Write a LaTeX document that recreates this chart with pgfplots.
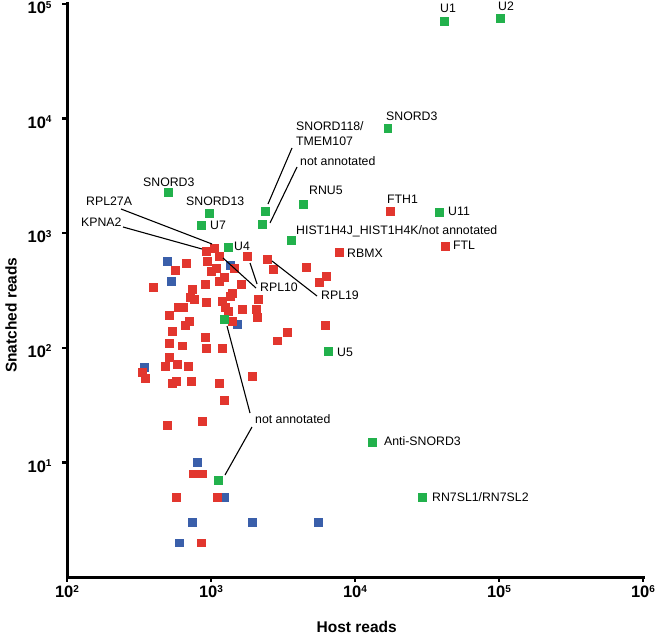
\documentclass[border=0pt]{standalone}
\usepackage{fontspec}
\setmainfont{Liberation Sans}
\usepackage{pgfplots}
\pgfplotsset{compat=1.18}
\definecolor{cred}{RGB}{226,54,46}
\definecolor{cgreen}{RGB}{34,177,76}
\definecolor{cblue}{RGB}{58,95,170}
\newcommand{\tl}[1]{\bfseries 10\raisebox{5.5pt}{\fontsize{10}{10}\selectfont\bfseries #1}}
\newcommand{\lab}{\fontsize{12.3}{14}\selectfont}
\begin{document}
\begin{tikzpicture}
\begin{axis}[
 scale only axis, width=576pt, height=573pt,
 xmode=log, ymode=log, xmin=100, xmax=1e6, ymin=1, ymax=1e5,
 axis lines=left, axis line style={-, line width=3pt, line cap=rect},
 xminorticks=false, yminorticks=false,
 xtick={100,1000,10000,100000,1000000},
 xticklabels={\tl{2},\tl{3},\tl{4},\tl{5},\tl{6}},
 ytick={10,100,1000,10000,100000},
 yticklabels={\tl{1},\tl{2},\tl{3},\tl{4},\tl{5}},
 tick align=outside, major tick length=5pt,
 tick style={black, line width=2.5pt},
 tick label style={font=\fontsize{16.5}{18}\selectfont},
 yticklabel style={xshift=-7pt, yshift=-3.5pt},
 xlabel={Host reads}, ylabel={Snatched reads},
 label style={font=\bfseries\fontsize{15.5}{18}\selectfont},
 xlabel style={at={(rel axis cs:0.503,-0.088)}, anchor=center},
 ylabel style={at={(rel axis cs:-0.097,0.457)}, anchor=center},
 clip=false,
]
\addplot[only marks, mark=square*, mark size=3.8pt, color=cblue, mark options={draw=none}] coordinates {
(495,572) (527,383) (1355,528) (1517,161) (343,68) (800,10) (1230,5) (738,3) (599,2) (1927,3) (5533,3)
};
\addplot[only marks, mark=square*, mark size=3.8pt, color=cred, mark options={draw=none}] coordinates {
(923,700) (1049,743) (1137,632) (938,572) (670,550) (562,477) (1084,497) (1000,468) (1137,383) (1230,415)
(908,360) (395,339) (738,326) (714,277) (762,267) (923,251) (1191,256) (590,227) (639,227) (511,193)
(703,171) (659,158) (536,140) (908,124) (511,110) (630,104) (923,99.6) (1778,632) (2448,595) (7740,685)
(1445,497) (2698,487) (4571,507) (6295,423) (5623,375) (1616,360) (1399,301) (1355,283) (2119,267) (1251,227)
(1641,218) (2053,218) (1312,209) (2085,186) (1399,171) (6194,158) (3373,137) (2873,115) (1191,99.6) (511,83.1)
(479,69.4) (581,72.2) (692,69.4) (332,61.5) (348,54.5) (536,49.3) (571,51.3) (726,51.3) (1137,49.3) (1927,56.8)
(1230,35.1) (866,23) (495,21) (750,8) (866,8) (571,5) (1101,5) (853,2) (17500,1563) (42170,773)
};
\addplot[only marks, mark=square*, mark size=3.8pt, color=cgreen, mark options={draw=none}] coordinates {
(41500,71100) (101600,75500) (16900,8280) (38300,1530) (502,2290) (968,1500) (853,1180) (1312,758)
(2371,1563) (2259,1203) (4355,1798) (3593,873) (6493,93.8) (1230,178) (1119,7) (13120,15) (29170,5)
};
\end{axis}
\begin{scope}[x=1pt,y=-1pt,xshift=-67pt,yshift=577pt]
\tikzset{lb/.style={anchor=base west, inner sep=0pt, font=\lab}}
\node[lb] at (440,13) {U1};
\node[lb] at (498,11) {U2};
\node[lb] at (386,121) {SNORD3};
\node[lb] at (387,204) {FTH1};
\node[lb] at (448,216) {U11};
\node[lb] at (453,250) {FTL};
\node[lb] at (296,235) {HIST1H4J\_HIST1H4K/not annotated};
\node[lb] at (347,258) {RBMX};
\node[lb] at (309,195) {RNU5};
\node[lb] at (296,131) {SNORD118/};
\node[lb] at (296,146) {TMEM107};
\node[lb] at (300,166) {not annotated};
\node[lb] at (186,206) {SNORD13};
\node[lb] at (210,230) {U7};
\node[lb] at (234,251) {U4};
\node[lb] at (143,187) {SNORD3};
\node[lb] at (86,206) {RPL27A};
\node[lb] at (81,227) {KPNA2};
\node[lb] at (260,292) {RPL10};
\node[lb] at (321,300) {RPL19};
\node[lb] at (255,423) {not annotated};
\node[lb] at (337,356) {U5};
\node[lb] at (384,445) {Anti-SNORD3};
\node[lb] at (432,501) {RN7SL1/RN7SL2};
\begin{scope}[line width=1.1pt]
\draw (121,209) -- (212,244);
\draw (123,227) -- (202,249);
\draw (292,148) -- (268,204);
\draw (297,167) -- (270,223);
\draw (223,258) -- (256,288);
\draw (250,263) -- (257,284);
\draw (272,261) -- (317,296);
\draw (227,326) -- (250,413);
\draw (252,427) -- (225,475);
\end{scope}
\pgfresetboundingbox
\path[use as bounding box] (0,0) rectangle (660,635);
\end{scope}
\end{tikzpicture}
\end{document}
